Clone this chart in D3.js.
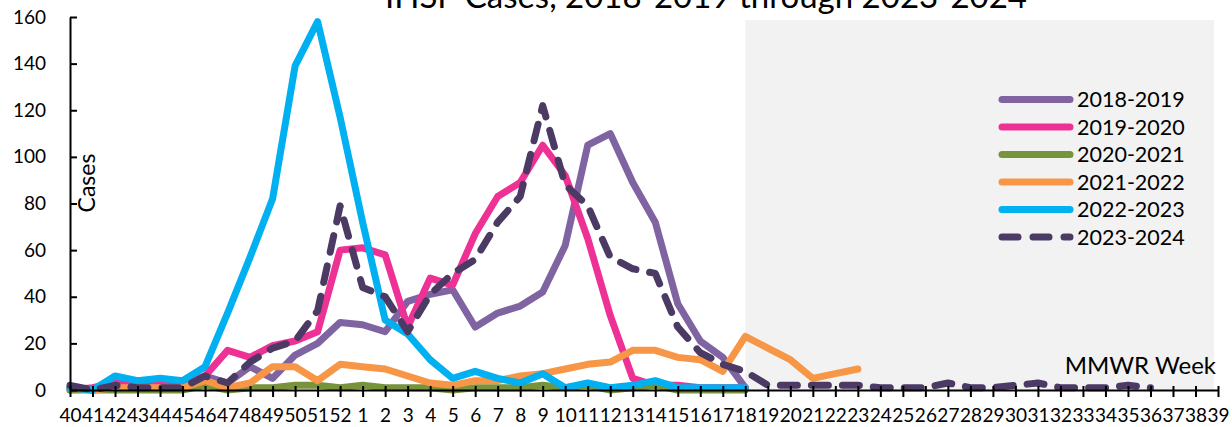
<!DOCTYPE html>
<html>
<meta charset="utf-8">
<style>
body { margin: 0; background: #fff; }
svg text { font-family: Lato, "DejaVu Sans", sans-serif; fill: #000; }
.axis path, .axis line { stroke: #000; stroke-width: 2px; }
.axis text { font-size: 19px; }
.series { fill: none; stroke-width: 7px; stroke-linejoin: round; stroke-linecap: round; }
</style>
<body>
<svg width="1232" height="427"></svg>
<script src="https://d3js.org/d3.v7.min.js"></script>
<script>
var weeks = ["40","41","42","43","44","45","46","47","48","49","50","51","52",
  "1","2","3","4","5","6","7","8","9","10","11","12","13","14","15","16","17","18","19","20",
  "21","22","23","24","25","26","27","28","29","30","31","32","33","34","35","36","37","38","39"];
var yTicks = [0, 20, 40, 60, 80, 100, 120, 140, 160];

var seasons = ["2018-2019", "2019-2020", "2020-2021", "2021-2022", "2022-2023", "2023-2024"];
var colors = ["#8064A2", "#EE3194", "#77933C", "#F79646", "#00B0F0", "#4B3A64"];

var s2018 = [1,0,1,1,1,2,6,3,10,5,15,20,29, 28,25,38,41,43,27,33,36,42,62,105,110,89,72,37,21,14,1];
var s2019 = [0,1,3,2,3,3,6,17,14,19,21,25,60, 61,58,27,48,45,67,83,89,105,92,65,32,5,2,2,1,1,1];
var s2020 = [0,0,0,0,0,0,2,0,1,1,2,2,1, 2,1,1,1,0,1,1,1,2,1,2,0,1,2,0,0,0,0];
var s2021 = [1,0,1,1,1,1,4,1,3,10,10,4,11, 10,9,6,3,2,4,4,6,7,9,11,12,17,17,14,13,8,23,18,13,5,7,9];
var s2022 = [1,0,6,4,5,4,10,33,57,82,139,158,117, 72,30,24,13,5,8,5,3,7,1,3,1,2,4,1,1,1,1];
var s2023 = [2,0,2,1,1,1,6,3,12,18,21,34,79, 44,40,25,41,50,56,72,83,122,88,79,57,52,50,27,16,11,8,
  2,2,2,2,2,1,1,1,3,1,1,2,3,1,1,1,2,1];
var series = [s2018, s2019, s2020, s2021, s2022, s2023];

// grey band marks the rest of the season, week 18 onward
var shadeFrom = "18", shadeTo = "39";

var svg = d3.select("svg");
var x = d3.scalePoint().domain(weeks).range([70, 1218]);
var y = d3.scaleLinear().domain([0, 160]).range([390, 17]);

svg.append("rect")
  .attr("x", x(shadeFrom))
  .attr("y", y(160) + 3)
  .attr("width", x(shadeTo) - x(shadeFrom) - 4)
  .attr("height", y(0) - y(160) - 3)
  .attr("fill", "#F2F2F2");

svg.append("text")
  .attr("x", 706)
  .attr("y", 8)
  .attr("text-anchor", "middle")
  .style("font-size", "33px")
  .text("IHSP Cases, 2018-2019 through 2023-2024");

var line = d3.line()
  .defined(function(d) { return d != null; })
  .x(function(d, i) { return x(weeks[i]); })
  .y(function(d) { return y(d); });

series.forEach(function(s, k) {
  svg.append("path")
    .attr("class", "series")
    .attr("d", line(s))
    .attr("stroke", colors[k])
    .attr("stroke-dasharray", k == 5 ? "17 14" : null);
});

var ax = svg.append("g")
  .attr("class", "axis")
  .attr("transform", "translate(0," + y(0) + ")")
  .call(d3.axisBottom(x).tickSizeInner(7).tickSizeOuter(0).tickPadding(12));
ax.selectAll(".tick line").attr("y1", -4);

svg.append("g")
  .attr("class", "axis")
  .attr("transform", "translate(" + x(weeks[0]) + ",0)")
  .call(d3.axisLeft(y).tickValues(yTicks).tickSizeInner(-7).tickSizeOuter(0).tickPadding(24));

svg.append("text")
  .attr("transform", "translate(95,183) rotate(-90)")
  .attr("text-anchor", "middle")
  .style("font-size", "23px")
  .text("Cases");

svg.append("text")
  .attr("x", 1216)
  .attr("y", 374)
  .attr("text-anchor", "end")
  .style("font-size", "24px")
  .text("MMWR Week");

var lg = svg.append("g");
seasons.forEach(function(name, k) {
  var ly = 99.5 + k * 27.5;
  lg.append("line")
    .attr("class", "series")
    .attr("x1", 1002).attr("x2", 1070)
    .attr("y1", ly).attr("y2", ly)
    .attr("stroke", colors[k])
    .attr("stroke-dasharray", k == 5 ? "16 15" : null);
  lg.append("text")
    .attr("x", 1077)
    .attr("y", ly)
    .attr("dy", "0.36em")
    .style("font-size", "21.5px")
    .text(name);
});
</script>
</body>
</html>
